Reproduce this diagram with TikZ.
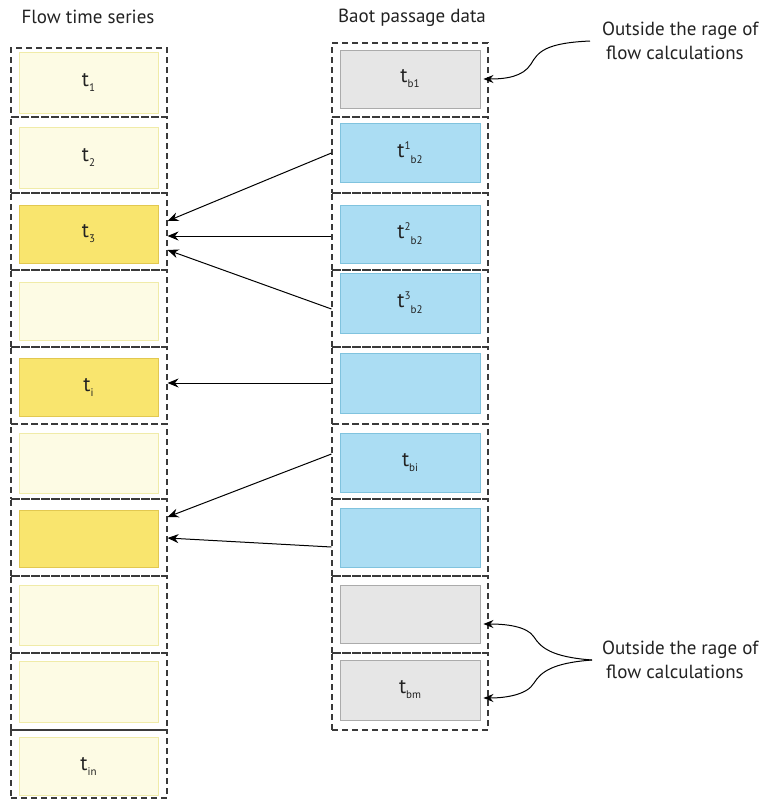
\documentclass[tikz,border=0pt]{standalone}
\usepackage{fontspec}
\setmainfont{PT Sans}
\usetikzlibrary{arrows.meta,calc}
\definecolor{paleYf}{HTML}{FDFBE4}
\definecolor{paleYd}{HTML}{F0EBA8}
\definecolor{strYf}{HTML}{F9E56E}
\definecolor{strYd}{HTML}{E2C850}
\definecolor{blueF}{HTML}{ABDDF3}
\definecolor{blueD}{HTML}{80C3DE}
\definecolor{grayF}{HTML}{E6E6E6}
\definecolor{grayD}{HTML}{ABABAB}
\definecolor{ink}{HTML}{222222}
\definecolor{dashc}{HTML}{3A3A3A}
\newcommand{\tsb}[1]{t\raisebox{-5pt}{\fontsize{11}{11}\selectfont #1}}
\newcommand{\tss}[2]{t\raisebox{8pt}{\fontsize{11}{11}\selectfont #1}\raisebox{-6pt}{\fontsize{11}{11}\selectfont #2}}
\begin{document}
\begin{tikzpicture}[x=1pt,y=-1pt,
  cellbox/.style={draw=dashc,line width=1.1pt,dash pattern=on 6pt off 4pt,minimum width=156pt,inner sep=0pt},
  inbox/.style={line width=0.9pt,inner sep=0pt,text=ink,font=\fontsize{21}{21}\selectfont},
  leftin/.style={inbox,minimum width=139pt},
  rightin/.style={inbox,minimum width=140pt},
  paleY/.style={fill=paleYf,draw=paleYd},
  strY/.style={fill=strYf,draw=strYd},
  blueB/.style={fill=blueF,draw=blueD},
  grayB/.style={fill=grayF,draw=grayD},
  conn/.style={draw=black,line width=1pt,-{Stealth[length=11pt,width=9pt]}},
  call/.style={draw=black,line width=1pt,-{Stealth[length=10pt,width=8pt]}},
  hdr/.style={text=ink,font=\fontsize{19}{24}\selectfont,inner sep=0pt},
  lab/.style={text=ink,font=\fontsize{19}{24}\selectfont,align=left,inner ysep=0pt}
]
\useasboundingbox (0,0) rectangle (774,801);

% headers
\node[hdr] (h1) at (88,17) {Flow time series};
\node[hdr] (h2) at (412,18) {Baot passage data};

% left column outer cells
\node[cellbox,minimum height=69pt] (l1) at (89,82.5) {};
\node[cellbox,minimum height=76pt] (l2) at (89,155) {};
\node[cellbox,minimum height=77pt] (l3) at (89,231.5) {};
\node[cellbox,minimum height=77pt] (l4) at (89,308.5) {};
\node[cellbox,minimum height=77pt] (l5) at (89,385.5) {};
\node[cellbox,minimum height=75pt] (l6) at (89,461.5) {};
\node[cellbox,minimum height=77pt] (l7) at (89,537.5) {};
\node[cellbox,minimum height=77pt] (l8) at (89,614.5) {};
\node[cellbox,minimum height=77pt] (l9) at (89,691.5) {};
\node[cellbox,minimum height=68pt] (l10) at (89,764) {};

% left column inner boxes
\node[leftin,paleY,minimum height=61pt] (li1) at (88.5,82.5) {\tsb{1}};
\node[leftin,paleY,minimum height=61pt] (li2) at (88.5,157.5) {\tsb{2}};
\node[leftin,strY,minimum height=58pt] (li3) at (88.5,234) {\tsb{3}};
\node[leftin,paleY,minimum height=58pt] (li4) at (88.5,311) {};
\node[leftin,strY,minimum height=58pt] (li5) at (88.5,387) {\tsb{i}};
\node[leftin,paleY,minimum height=60pt] (li6) at (88.5,463) {};
\node[leftin,strY,minimum height=57pt] (li7) at (88.5,538.5) {};
\node[leftin,paleY,minimum height=60pt] (li8) at (88.5,615) {};
\node[leftin,paleY,minimum height=61pt] (li9) at (88.5,691.5) {};
\node[leftin,paleY,minimum height=58pt] (li10) at (88.5,766) {\tsb{in}};

% right column outer cells
\node[cellbox,minimum height=74pt] (r1) at (410,80) {};
\node[cellbox,minimum height=76pt] (r2) at (410,155) {};
\node[cellbox,minimum height=77pt] (r3) at (410,231.5) {};
\node[cellbox,minimum height=77pt] (r4) at (410,308.5) {};
\node[cellbox,minimum height=77pt] (r5) at (410,385.5) {};
\node[cellbox,minimum height=75pt] (r6) at (410,461.5) {};
\node[cellbox,minimum height=77pt] (r7) at (410,537.5) {};
\node[cellbox,minimum height=77pt] (r8) at (410,614.5) {};
\node[cellbox,minimum height=77pt] (r9) at (410,691.5) {};

% right column inner boxes
\node[rightin,grayB,minimum height=58pt] (ri1) at (410,79) {\tsb{b1}};
\node[rightin,blueB,minimum height=59pt] (ri2) at (410,152.5) {\tss{1}{b2}};
\node[rightin,blueB,minimum height=58pt] (ri3) at (410,234) {\tss{2}{b2}};
\node[rightin,blueB,minimum height=60pt] (ri4) at (410,303) {\tss{3}{b2}};
\node[rightin,blueB,minimum height=60pt] (ri5) at (410,383) {};
\node[rightin,blueB,minimum height=59pt] (ri6) at (410,462.5) {\tsb{bi}};
\node[rightin,blueB,minimum height=59pt] (ri7) at (410,537.5) {};
\node[rightin,grayB,minimum height=58pt] (ri8) at (410,614) {};
\node[rightin,grayB,minimum height=60pt] (ri9) at (410,690) {\tsb{bm}};

% connectors
\draw[conn] ($(r2.west)+(0,-2)$) -- ($(l3.east)+(0,-10.5)$);
\draw[conn] ($(r3.west)+(0,4.5)$) -- ($(l3.east)+(0,4.5)$);
\draw[conn] ($(r4.west)+(0,0.5)$) -- ($(l3.east)+(0,18.5)$);
\draw[conn] ($(r5.west)+(0,-2.5)$) -- ($(l5.east)+(0,-2.5)$);
\draw[conn] ($(r6.west)+(0,-7.5)$) -- ($(l7.east)+(0,-20.5)$);
\draw[conn] ($(r7.west)+(0,9.5)$) -- ($(l7.east)+(0,0.5)$);

% callout labels
\node[lab,anchor=west,inner xsep=12pt] (lab1) at (590,41) {Outside the rage of\\ \hspace*{4pt}flow calculations};
\node[lab,anchor=west,inner xsep=10pt] (lab2) at (592,660) {Outside the rage of\\ \hspace*{4pt}flow calculations};

\draw[call] (lab1.west) .. controls (545,43) and (538,52) .. (531,64)
  .. controls (523,77) and (505,79) .. ($(ri1.east)+(3,0)$);
\draw[call] (lab2.west) .. controls (552,657) and (541,648) .. (534,637)
  .. controls (527,626) and (505,624) .. ($(ri8.east)+(3,10)$);
\draw[call] (lab2.west) .. controls (552,663) and (541,672) .. (534,683)
  .. controls (527,695) and (505,698) .. ($(ri9.east)+(3,8)$);
\end{tikzpicture}
\end{document}
